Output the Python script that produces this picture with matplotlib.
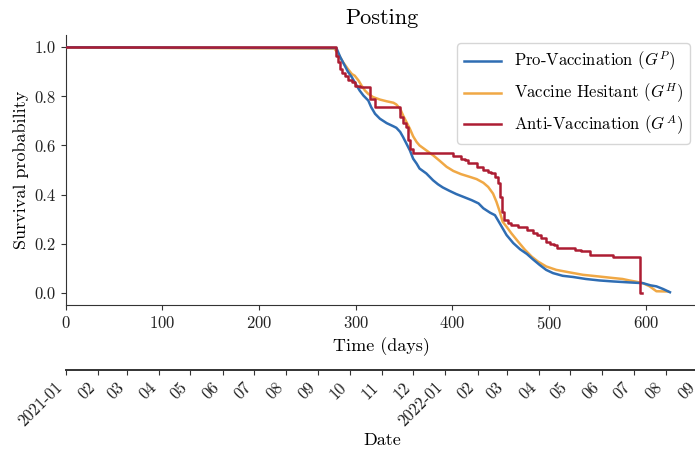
import matplotlib
matplotlib.use("Agg")
import matplotlib.pyplot as plt
import matplotlib.dates as mdates
import datetime as dt

plt.rcParams['font.family'] = ['cmr10', 'DejaVu Serif']
plt.rcParams['mathtext.fontset'] = 'cm'
plt.rcParams['axes.formatter.use_mathtext'] = True

# ---------------- data ----------------
pro_days = [0, 180, 280, 284, 288, 292, 296, 299, 304, 308, 313, 316, 320, 325, 332, 339, 342,
            346, 349, 352.5, 356, 359.4, 363, 366, 373, 380, 385, 390, 397, 404, 413, 420, 427,
            432, 439, 444, 447, 451, 456, 463, 470, 477, 483, 490, 497, 504, 514, 525, 538, 552,
            566, 583, 597, 605, 611, 618, 625]
pro_surv = [1.0, 0.998, 0.997, 0.96, 0.93, 0.90, 0.878, 0.857, 0.824, 0.803, 0.783, 0.756, 0.729,
            0.709, 0.691, 0.678, 0.672, 0.655, 0.634, 0.607, 0.580, 0.546, 0.526, 0.506, 0.486,
            0.458, 0.442, 0.429, 0.415, 0.402, 0.388, 0.377, 0.364, 0.344, 0.326, 0.316, 0.296,
            0.269, 0.235, 0.202, 0.177, 0.158, 0.137, 0.114, 0.093, 0.080, 0.069, 0.064, 0.056,
            0.050, 0.046, 0.042, 0.039, 0.030, 0.026, 0.015, 0.002]

hes_days = [0, 120, 278, 282, 287, 292, 296, 299, 303, 306, 309.5, 313, 318, 325, 332, 339, 342,
            346, 349, 352.5, 356, 359.4, 363, 366, 373, 380, 387, 394, 401, 409, 418, 425, 432,
            437, 442, 445.5, 449, 452, 456, 461, 468, 475, 482, 488.5, 497, 507.5, 521, 535, 552,
            566, 576, 583, 590, 597, 604, 611, 623]
hes_surv = [1.0, 0.997, 0.995, 0.972, 0.9385, 0.911, 0.891, 0.884, 0.864, 0.844, 0.824, 0.810,
            0.797, 0.787, 0.780, 0.774, 0.767, 0.749, 0.722, 0.695, 0.668, 0.637, 0.614, 0.600,
            0.580, 0.560, 0.537, 0.513, 0.496, 0.483, 0.472, 0.463, 0.448, 0.431, 0.404, 0.371,
            0.330, 0.289, 0.269, 0.242, 0.208, 0.175, 0.147, 0.127, 0.107, 0.093, 0.083, 0.073,
            0.066, 0.060, 0.056, 0.050, 0.045, 0.039, 0.026, 0.006, 0.005]

anti_days = [0, 280, 282, 284, 286, 289, 292, 296, 299, 304, 315, 320, 346, 349, 352, 354, 356,
             359, 401, 409, 413, 416, 425, 432, 437, 440, 444, 447, 449, 451, 453, 457, 461, 468,
             477, 483, 488, 492, 497, 501, 505, 508, 527, 533, 542, 566, 594, 596]
anti_surv = [1.0, 0.966, 0.94, 0.91, 0.895, 0.884, 0.867, 0.860, 0.844, 0.837, 0.790, 0.756,
             0.715, 0.690, 0.675, 0.621, 0.587, 0.569, 0.556, 0.546, 0.540, 0.530, 0.513, 0.499,
             0.492, 0.486, 0.472, 0.445, 0.391, 0.330, 0.296, 0.285, 0.276, 0.269, 0.256, 0.245,
             0.235, 0.222, 0.208, 0.200, 0.195, 0.181, 0.175, 0.168, 0.154, 0.147, 0.0, 0.0]

labels = [r"Pro-Vaccination ($G^P$)", r"Vaccine Hesitant ($G^H$)", r"Anti-Vaccination ($G^A$)"]
colors = ["#2f6db3", "#f0a845", "#ad1d33"]

start_date = dt.date(2021, 1, 1)
month_ticks = [dt.date(2021 + (m // 12), m % 12 + 1, 1) for m in range(21)]

# ---------------- figure ----------------
fig = plt.figure(figsize=(6.95, 4.54), dpi=100)
ax = fig.add_axes([0.0945, 0.3282, 0.9098, 0.5947])

ax.plot(pro_days, pro_surv, color=colors[0], lw=1.8, label=labels[0], zorder=3)
ax.plot(hes_days, hes_surv, color=colors[1], lw=1.8, label=labels[1], zorder=2)
ax.step(anti_days, anti_surv, where='post', color=colors[2], lw=1.8, label=labels[2], zorder=4)

ax.set_xlim(0, 654)
ax.set_ylim(-0.05, 1.05)
ax.set_yticks([0.0, 0.2, 0.4, 0.6, 0.8, 1.0])
ax.set_yticklabels(["0.0", "0.2", "0.4", "0.6", "0.8", "1.0"])
ax.set_xticks([0, 100, 200, 300, 400, 500, 600])
ax.tick_params(labelsize=12, color="#333333", labelcolor="#222222")
for s in ["top", "right"]:
    ax.spines[s].set_visible(False)
for s in ["left", "bottom"]:
    ax.spines[s].set_color("#333333")
ax.set_xlabel("Time (days)", fontsize=13, labelpad=4)
ax.set_ylabel("Survival probability", fontsize=13)
ax.set_title("Posting", fontsize=16, pad=8)

leg = ax.legend(loc="upper right", fontsize=12, handlelength=2.2)

# date axis
ax2 = ax.twiny()
ax2.xaxis.set_ticks_position("bottom")
ax2.xaxis.set_label_position("bottom")
ax2.spines["bottom"].set_position(("axes", -0.24))
for s in ["top", "left", "right"]:
    ax2.spines[s].set_visible(False)
ax2.spines["bottom"].set_color("#333333")
ax2.spines["bottom"].set_linewidth(1.4)
d0 = mdates.date2num(start_date)
ax2.set_xlim(d0, d0 + 605)
ax2.set_xticks([mdates.date2num(d) for d in month_ticks])
ax2.set_xticklabels([d.strftime("%Y-%m") if d.month == 1 else d.strftime("%m") for d in month_ticks],
                    rotation=45, ha="right")
ax2.tick_params(axis="x", labelsize=12, color="#333333", labelcolor="#222222")
ax2.set_xlabel("Date", fontsize=13, labelpad=2)

fig.savefig("out.png", dpi=100)
